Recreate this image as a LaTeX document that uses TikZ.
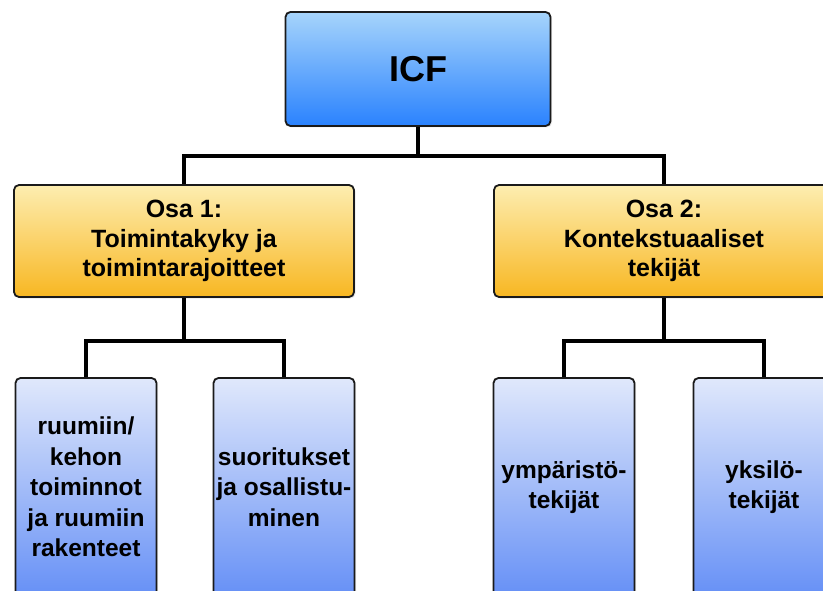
\documentclass[tikz,border=0pt]{standalone}
\usepackage{fontspec}
\setmainfont{Liberation Sans}
\usetikzlibrary{shadows}
\definecolor{icftop}{HTML}{A6D4FB}
\definecolor{icfbot}{HTML}{2A82FE}
\definecolor{osatop}{HTML}{FDEDB0}
\definecolor{osabot}{HTML}{F8B722}
\definecolor{subtop}{HTML}{E0E8FB}
\definecolor{subbot}{HTML}{6690F6}
\definecolor{edge}{HTML}{1A1A1A}
\begin{document}
\begin{tikzpicture}[x=1pt,y=-1pt,
  box/.style={draw=edge, line width=1.8pt, rounded corners=5pt, align=center,
    inner sep=0pt,
    drop shadow={opacity=0.18, shadow xshift=1.5pt, shadow yshift=-1.5pt}},
  icfbox/.style={box, top color=icftop, bottom color=icfbot,
    minimum width=265, minimum height=114,
    font=\fontsize{36}{40}\selectfont\bfseries},
  osabox/.style={box, top color=osatop, bottom color=osabot,
    minimum width=340, minimum height=112,
    font=\fontsize{25}{29.5}\selectfont\bfseries},
  subbox/.style={box, top color=subtop, bottom color=subbot,
    minimum width=141, minimum height=218,
    font=\fontsize{24.5}{30.5}\selectfont\bfseries},
  conn/.style={draw=black, line width=3.2pt}]
\useasboundingbox (0,0) rectangle (823,591);
\clip (0,0) rectangle (823,591);
\fill[white] (0,0) rectangle (823,591);

\node[icfbox] (icf) at (418,69) {ICF};
\node[osabox] (osa1) at (184,241) {Osa 1:\\Toimintakyky ja\\toimintarajoitteet};
\node[osabox] (osa2) at (664,241) {Osa 2:\\Kontekstuaaliset\\tekijät};

\node[subbox] (s1) at (86,487) {ruumiin/\\kehon\\toiminnot\\ja ruumiin\\rakenteet};
\node[subbox] (s2) at (284,487) {suoritukset\\ja osallistu-\\minen};
\node[subbox] (s3) at (564,487) {ympäristö-\\tekijät};
\node[subbox] (s4) at (764,487) {yksilö-\\tekijät};

\coordinate (j0) at (418,156);
\coordinate (j1) at (184,341);
\coordinate (j2) at (664,341);

\draw[conn] (icf.south) -- (j0);
\draw[conn] (osa1.north) |- (j0) -| (osa2.north);
\draw[conn] (osa1.south) -- (j1);
\draw[conn] (s1.north) |- (j1) -| (s2.north);
\draw[conn] (osa2.south) -- (j2);
\draw[conn] (s3.north) |- (j2) -| (s4.north);
\end{tikzpicture}
\end{document}
